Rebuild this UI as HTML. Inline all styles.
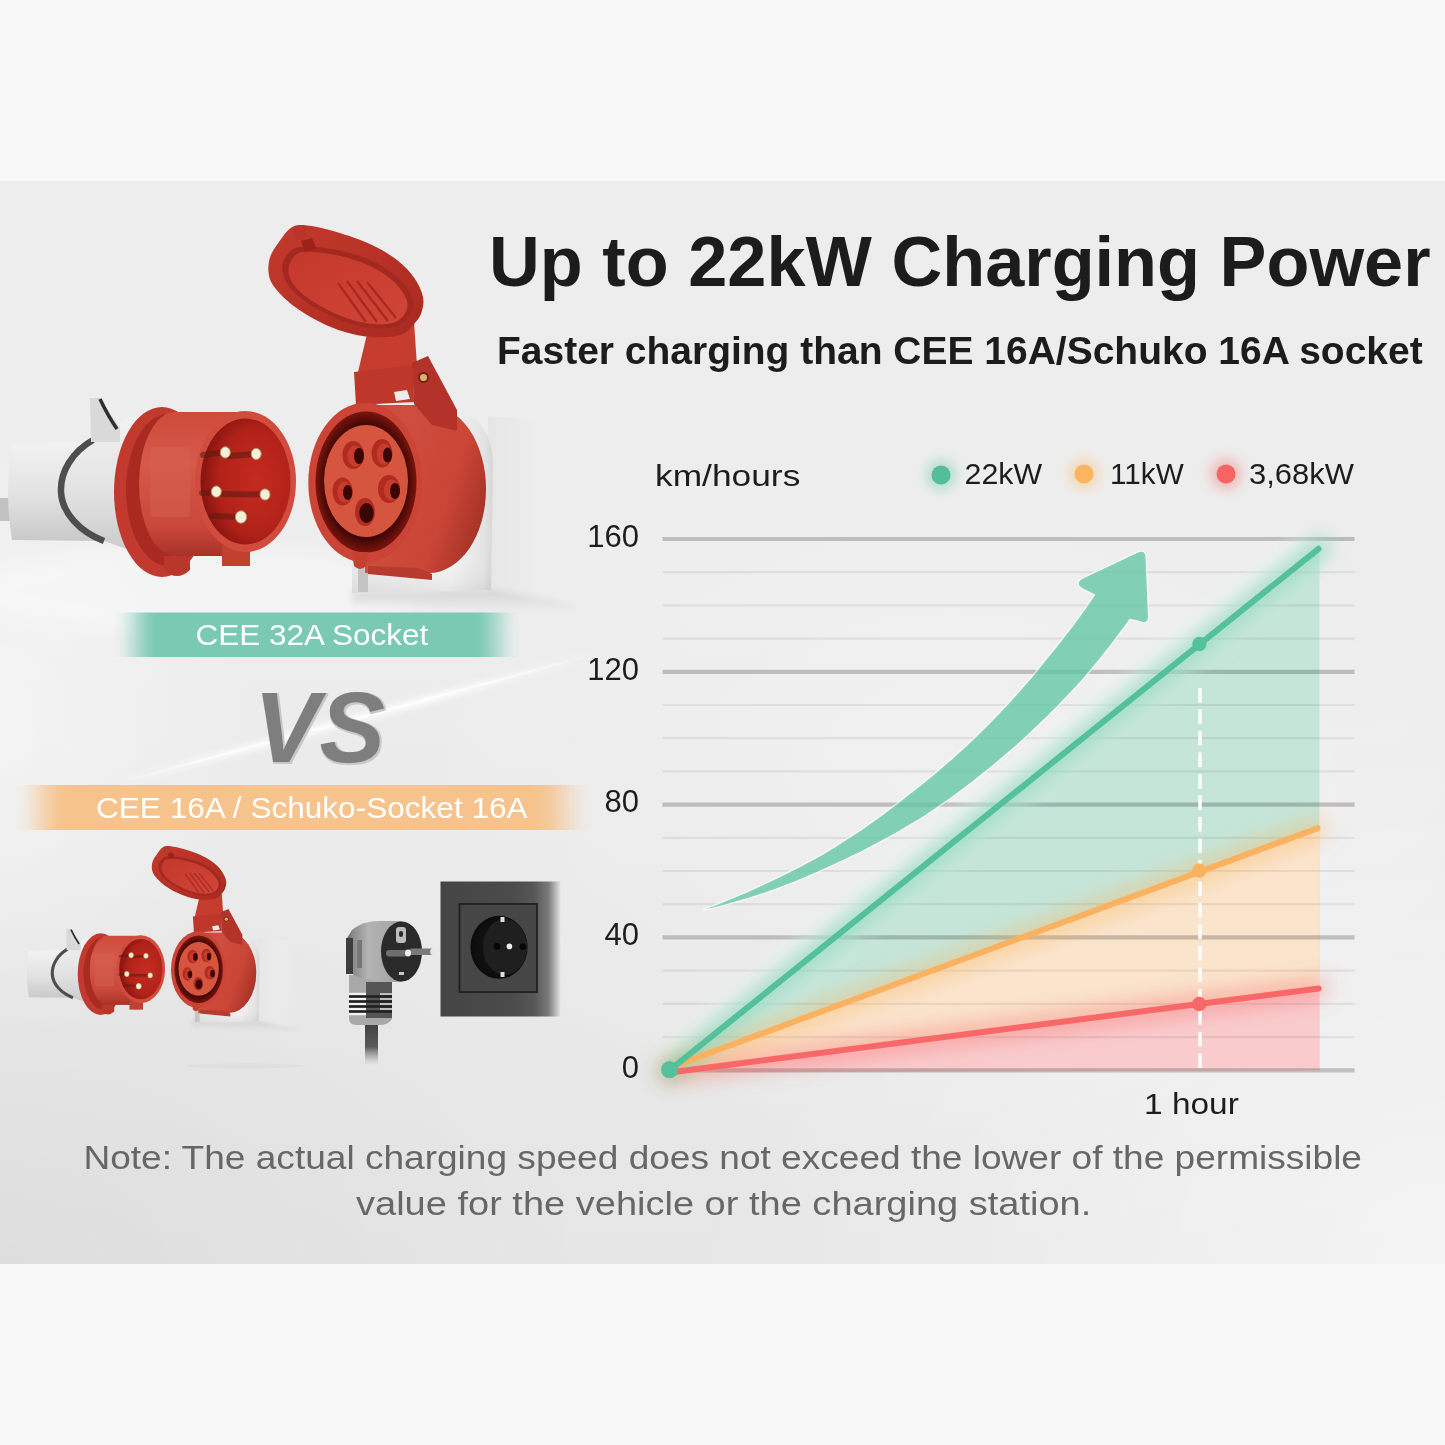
<!DOCTYPE html>
<html><head><meta charset="utf-8">
<style>
html,body{margin:0;padding:0;}
body{width:1445px;height:1445px;background:#f8f8f8;overflow:hidden;position:relative;font-family:"Liberation Sans",Arial,sans-serif;}
#panel{position:absolute;left:0;top:181px;width:1445px;height:1083px;
background:
radial-gradient(ellipse 260px 330px at 0px 540px, rgba(255,255,255,0.4), rgba(255,255,255,0) 100%),
radial-gradient(ellipse 600px 400px at 0px 1083px, rgba(0,0,0,0.04), rgba(0,0,0,0) 100%),
radial-gradient(ellipse 760px 660px at 1445px 1083px, rgba(255,255,255,0.55), rgba(255,255,255,0) 100%),
radial-gradient(ellipse 560px 380px at 950px 600px, rgba(255,255,255,0.25), rgba(255,255,255,0) 100%),
linear-gradient(180deg,#ededed 0%,#ededed 40%,#e6e6e6 100%);}
svg{position:absolute;left:0;top:0;}
</style></head>
<body>
<div id="panel"></div>
<svg width="1445" height="1445" viewBox="0 0 1445 1445">
<defs>
  <filter id="blur6" x="-50%" y="-50%" width="200%" height="200%"><feGaussianBlur stdDeviation="6"/></filter>
  <filter id="blur10" x="-50%" y="-50%" width="200%" height="200%"><feGaussianBlur stdDeviation="10"/></filter>
  <filter id="blur3" x="-50%" y="-50%" width="200%" height="200%"><feGaussianBlur stdDeviation="3"/></filter>
  <linearGradient id="gBan" gradientUnits="userSpaceOnUse" x1="112" x2="522" y1="0" y2="0">
    <stop offset="0.0000" stop-color="#79c9b3" stop-opacity="0.000"/>
    <stop offset="0.0146" stop-color="#79c9b3" stop-opacity="0.038"/>
    <stop offset="0.0293" stop-color="#79c9b3" stop-opacity="0.146"/>
    <stop offset="0.0439" stop-color="#79c9b3" stop-opacity="0.309"/>
    <stop offset="0.0585" stop-color="#79c9b3" stop-opacity="0.500"/>
    <stop offset="0.0732" stop-color="#79c9b3" stop-opacity="0.691"/>
    <stop offset="0.0878" stop-color="#79c9b3" stop-opacity="0.854"/>
    <stop offset="0.1024" stop-color="#79c9b3" stop-opacity="0.962"/>
    <stop offset="0.1171" stop-color="#79c9b3" stop-opacity="1.000"/>
    <stop offset="0.8780" stop-color="#79c9b3" stop-opacity="1.000"/>
    <stop offset="0.8933" stop-color="#79c9b3" stop-opacity="0.962"/>
    <stop offset="0.9085" stop-color="#79c9b3" stop-opacity="0.854"/>
    <stop offset="0.9238" stop-color="#79c9b3" stop-opacity="0.691"/>
    <stop offset="0.9390" stop-color="#79c9b3" stop-opacity="0.500"/>
    <stop offset="0.9543" stop-color="#79c9b3" stop-opacity="0.309"/>
    <stop offset="0.9695" stop-color="#79c9b3" stop-opacity="0.146"/>
    <stop offset="0.9848" stop-color="#79c9b3" stop-opacity="0.038"/>
    <stop offset="1.0000" stop-color="#79c9b3" stop-opacity="0.000"/>
  </linearGradient>
  <linearGradient id="oBan" gradientUnits="userSpaceOnUse" x1="12" x2="594" y1="0" y2="0">
    <stop offset="0.0000" stop-color="#f6c38d" stop-opacity="0.000"/>
    <stop offset="0.0120" stop-color="#f6c38d" stop-opacity="0.038"/>
    <stop offset="0.0241" stop-color="#f6c38d" stop-opacity="0.146"/>
    <stop offset="0.0361" stop-color="#f6c38d" stop-opacity="0.309"/>
    <stop offset="0.0481" stop-color="#f6c38d" stop-opacity="0.500"/>
    <stop offset="0.0601" stop-color="#f6c38d" stop-opacity="0.691"/>
    <stop offset="0.0722" stop-color="#f6c38d" stop-opacity="0.854"/>
    <stop offset="0.0842" stop-color="#f6c38d" stop-opacity="0.962"/>
    <stop offset="0.0962" stop-color="#f6c38d" stop-opacity="1.000"/>
    <stop offset="0.8935" stop-color="#f6c38d" stop-opacity="1.000"/>
    <stop offset="0.9068" stop-color="#f6c38d" stop-opacity="0.962"/>
    <stop offset="0.9201" stop-color="#f6c38d" stop-opacity="0.854"/>
    <stop offset="0.9334" stop-color="#f6c38d" stop-opacity="0.691"/>
    <stop offset="0.9467" stop-color="#f6c38d" stop-opacity="0.500"/>
    <stop offset="0.9601" stop-color="#f6c38d" stop-opacity="0.309"/>
    <stop offset="0.9734" stop-color="#f6c38d" stop-opacity="0.146"/>
    <stop offset="0.9867" stop-color="#f6c38d" stop-opacity="0.038"/>
    <stop offset="1.0000" stop-color="#f6c38d" stop-opacity="0.000"/>
  </linearGradient>

  <linearGradient id="gHandle" x1="0" x2="0" y1="0" y2="1">
    <stop offset="0" stop-color="#f2f2f2"/><stop offset="0.55" stop-color="#e2e2e2"/><stop offset="1" stop-color="#c9c9c9"/>
  </linearGradient>
  <linearGradient id="gBody" x1="0" x2="0" y1="0" y2="1">
    <stop offset="0" stop-color="#cf4a3b"/><stop offset="0.35" stop-color="#d55a4a"/><stop offset="0.8" stop-color="#c8473a"/><stop offset="1" stop-color="#a83226"/>
  </linearGradient>
  <linearGradient id="gFlange" x1="0" x2="1" y1="0" y2="0">
    <stop offset="0" stop-color="#d04436"/><stop offset="0.5" stop-color="#a82a20"/><stop offset="1" stop-color="#b8372b"/>
  </linearGradient>
  <radialGradient id="gInner" cx="0.62" cy="0.5" r="0.6">
    <stop offset="0" stop-color="#c62b20"/><stop offset="0.7" stop-color="#b02219"/><stop offset="1" stop-color="#8a1410"/>
  </radialGradient>
  <linearGradient id="gSockBody" gradientUnits="userSpaceOnUse" x1="400" x2="487" y1="470" y2="500">
    <stop offset="0" stop-color="#cf4d3e"/><stop offset="0.6" stop-color="#c94536"/><stop offset="1" stop-color="#a93428"/>
  </linearGradient>
  <radialGradient id="gGap" cx="0.5" cy="0.5" r="0.5">
    <stop offset="0.8" stop-color="#3e0604"/><stop offset="1" stop-color="#7a140d"/>
  </radialGradient>
  <linearGradient id="gLid" x1="0" x2="1" y1="0" y2="1">
    <stop offset="0" stop-color="#c43a2d"/><stop offset="1" stop-color="#a9291f"/>
  </linearGradient>
  <linearGradient id="gLidIn" x1="0" x2="1" y1="0" y2="1">
    <stop offset="0" stop-color="#c4382c"/><stop offset="1" stop-color="#cf4536"/>
  </linearGradient>
  <linearGradient id="gPlateV" x1="0" x2="0" y1="0" y2="1">
    <stop offset="0" stop-color="#ffffff" stop-opacity="0"/><stop offset="0.8" stop-color="#ffffff" stop-opacity="0"/><stop offset="1" stop-color="#000000" stop-opacity="0.06"/>
  </linearGradient>
  <linearGradient id="gPlate" x1="0" x2="1" y1="0" y2="0">
    <stop offset="0" stop-color="#e9e9e9"/><stop offset="0.7" stop-color="#f3f3f3"/><stop offset="0.93" stop-color="#e4e4e4"/><stop offset="1" stop-color="#d6d6d6"/>
  </linearGradient>
  <linearGradient id="gBoxSide" x1="0" x2="1" y1="0" y2="0">
    <stop offset="0" stop-color="#e6e6e6" stop-opacity="1"/><stop offset="0.6" stop-color="#ececec" stop-opacity="0.8"/><stop offset="1" stop-color="#eeeeee" stop-opacity="0"/>
  </linearGradient>
  <linearGradient id="gShadowV" x1="0" x2="0" y1="0" y2="1">
    <stop offset="0" stop-color="#cfcfcf" stop-opacity="0.9"/><stop offset="1" stop-color="#dddddd" stop-opacity="0"/>
  </linearGradient>

  <linearGradient id="gFrame" x1="0" x2="1" y1="0" y2="0">
    <stop offset="0" stop-color="#454545"/><stop offset="0.6" stop-color="#4b4b4b"/><stop offset="0.78" stop-color="#575757"/><stop offset="0.9" stop-color="#7a7a7a"/><stop offset="0.97" stop-color="#c4c4c4"/><stop offset="1" stop-color="#e2e2e2"/>
  </linearGradient>
  <linearGradient id="gPlugBody" x1="0" x2="1" y1="0" y2="0">
    <stop offset="0" stop-color="#5a5a5a"/><stop offset="0.12" stop-color="#8a8a8a"/><stop offset="0.4" stop-color="#b4b4b4"/><stop offset="1" stop-color="#a0a0a0"/>
  </linearGradient>
  <linearGradient id="gCable" x1="0" x2="0" y1="0" y2="1">
    <stop offset="0" stop-color="#3c3c3c"/><stop offset="0.6" stop-color="#5a5a5a"/><stop offset="1" stop-color="#9a9a9a" stop-opacity="0"/>
  </linearGradient>
  <radialGradient id="gRecess" cx="0.5" cy="0.5" r="0.5">
    <stop offset="0" stop-color="#181818"/><stop offset="0.85" stop-color="#0e0e0e"/><stop offset="1" stop-color="#0a0a0a"/>
  </radialGradient>
  <linearGradient id="streak" gradientUnits="userSpaceOnUse" x1="115" y1="784" x2="600" y2="653">
    <stop offset="0" stop-color="#ffffff" stop-opacity="0"/><stop offset="0.25" stop-color="#ffffff" stop-opacity="0.85"/><stop offset="0.65" stop-color="#ffffff" stop-opacity="1"/><stop offset="1" stop-color="#ffffff" stop-opacity="0"/>
  </linearGradient>
  <filter id="vsf" x="-10%" y="-10%" width="120%" height="120%">
    <feMorphology operator="dilate" radius="1.2" in="SourceAlpha" result="d"/>
    <feOffset dx="1" dy="1" in="d" result="o"/>
    <feFlood flood-color="#c8c8c8"/><feComposite in2="o" operator="in" result="edge"/>
    <feMerge><feMergeNode in="edge"/><feMergeNode in="SourceGraphic"/></feMerge>
  </filter>
</defs>

<!-- ===== CHART ===== -->
<!-- fills -->
<g id="fills">
  <polygon points="670,1070 1318.5,548.8 1319.5,548.8 1319.5,1070.3" fill="#c5e5d9"/>
  <polygon points="670,1067.5 1317.5,828.2 1319.5,828.2 1319.5,1070.3" fill="#fae4cc"/>
  <polygon points="670,1072.5 1318.7,988.5 1319.5,988.5 1319.5,1070.3" fill="#f9cbcc"/>
</g>
<g id="grid" style="mix-blend-mode:multiply">
  <g stroke="#eeeeee" stroke-width="2.2"><line x1="662.5" x2="1354.5" y1="572.2" y2="572.2"/><line x1="662.5" x2="1354.5" y1="605.4" y2="605.4"/><line x1="662.5" x2="1354.5" y1="638.6" y2="638.6"/><line x1="662.5" x2="1354.5" y1="705.0" y2="705.0"/><line x1="662.5" x2="1354.5" y1="738.2" y2="738.2"/><line x1="662.5" x2="1354.5" y1="771.4" y2="771.4"/><line x1="662.5" x2="1354.5" y1="837.8" y2="837.8"/><line x1="662.5" x2="1354.5" y1="871.0" y2="871.0"/><line x1="662.5" x2="1354.5" y1="904.2" y2="904.2"/><line x1="662.5" x2="1354.5" y1="970.6" y2="970.6"/><line x1="662.5" x2="1354.5" y1="1003.8" y2="1003.8"/><line x1="662.5" x2="1354.5" y1="1037.1" y2="1037.1"/></g>
  <g stroke="#cbcbcb" stroke-width="4.2"><line x1="662.5" x2="1354.5" y1="539" y2="539"/><line x1="662.5" x2="1354.5" y1="671.8" y2="671.8"/><line x1="662.5" x2="1354.5" y1="804.6" y2="804.6"/><line x1="662.5" x2="1354.5" y1="937.4" y2="937.4"/><line x1="662.5" x2="1354.5" y1="1070.3" y2="1070.3"/></g>
</g>

<!-- glows -->
<line x1="668" y1="1067.8" x2="1316.5" y2="546.8" stroke="#ffffff" stroke-width="34" stroke-opacity="0.55" filter="url(#blur10)"/>
<g id="glows" fill="none" stroke-linecap="round">
  <line x1="670" y1="1072.5" x2="1318.7" y2="988.5" stroke="#f76464" stroke-width="20" stroke-opacity="0.4" filter="url(#blur10)"/>
  <line x1="670" y1="1067.5" x2="1317.5" y2="828.2" stroke="#fbb55f" stroke-width="20" stroke-opacity="0.45" filter="url(#blur10)"/>
  <line x1="670" y1="1069.8" x2="1318.5" y2="548.8" stroke="#5cc4a0" stroke-width="22" stroke-opacity="0.55" filter="url(#blur10)"/>
</g>
<!-- dashed hour line -->
<line x1="1200" y1="688" x2="1200" y2="1070" stroke="#ffffff" stroke-width="3.4" stroke-dasharray="14.5 7"/>
<!-- lines -->
<g id="lines" fill="none" stroke-linecap="round" stroke-width="6">
  <line x1="670" y1="1072.5" x2="1318.7" y2="988.5" stroke="#f86868"/>
  <line x1="670" y1="1067.5" x2="1317.5" y2="828.2" stroke="#fbb260"/>
  <line x1="670" y1="1069.8" x2="1318.5" y2="548.8" stroke="#55c09c"/>
</g>
<circle cx="1199.4" cy="644" r="7.2" fill="#55c09c"/>
<circle cx="1199.4" cy="870.5" r="7.2" fill="#fbb260"/>
<circle cx="1199.2" cy="1004" r="7.2" fill="#f86868"/>
<circle cx="669.6" cy="1069.6" r="8.6" fill="#55c09c"/>
<!-- big arrow -->
<path d="M704.5,909.5 L710.7,907.2 L716.8,904.9 L722.9,902.5 L729.0,900.1 L735.1,897.6 L741.1,895.0 L747.1,892.4 L753.0,889.8 L759.0,887.0 L764.9,884.3 L770.8,881.6 L776.7,878.8 L782.5,876.0 L788.4,873.1 L794.2,870.1 L799.9,867.2 L805.7,864.1 L811.4,861.0 L817.1,857.9 L822.7,854.7 L828.3,851.4 L833.9,848.1 L839.4,844.6 L844.8,841.1 L850.3,837.6 L855.7,834.0 L861.1,830.4 L866.4,826.7 L871.7,823.0 L877.0,819.3 L882.2,815.5 L887.4,811.6 L892.5,807.7 L897.7,803.8 L902.8,799.8 L907.8,795.8 L912.9,791.8 L918.0,787.8 L923.0,783.8 L928.0,779.7 L933.0,775.7 L937.9,771.5 L942.8,767.3 L947.7,763.1 L952.5,758.9 L957.3,754.6 L962.1,750.2 L966.8,745.9 L971.5,741.4 L976.2,737.0 L980.8,732.5 L985.3,728.0 L989.9,723.4 L994.4,718.8 L998.9,714.2 L1003.3,709.6 L1007.7,704.9 L1012.0,700.1 L1016.3,695.4 L1020.6,690.6 L1024.8,685.7 L1029.0,680.9 L1033.2,676.0 L1037.3,671.1 L1041.3,666.1 L1045.4,661.1 L1049.3,656.1 L1053.4,651.2 L1057.4,646.2 L1061.4,641.2 L1065.3,636.1 L1069.2,631.1 L1073.1,626.0 L1076.9,620.8 L1080.6,615.7 L1084.4,610.5 L1088.0,605.3 L1091.7,600.1 L1095.3,594.8 L1082,588 Q1075,583 1082,579 L1137,553 Q1145,549 1145.5,557 L1148,616 Q1148,625 1140,621 L1129.7,618.8 L1125.8,624.2 L1121.8,629.7 L1117.8,635.0 L1113.8,640.4 L1109.7,645.7 L1105.5,651.0 L1101.4,656.2 L1097.1,661.4 L1092.9,666.6 L1088.6,671.8 L1084.2,676.9 L1079.8,682.0 L1075.3,686.9 L1070.7,691.8 L1066.1,696.7 L1061.4,701.6 L1056.7,706.4 L1052.0,711.1 L1047.3,715.9 L1042.4,720.6 L1037.6,725.2 L1032.7,729.8 L1027.8,734.4 L1022.9,738.9 L1017.9,743.4 L1012.9,747.9 L1007.8,752.3 L1002.8,756.6 L997.6,760.9 L992.5,765.2 L987.3,769.5 L982.1,773.6 L976.8,777.8 L971.6,781.9 L966.2,786.0 L960.9,790.0 L955.5,793.9 L950.1,797.9 L944.7,801.7 L939.2,805.6 L933.7,809.3 L928.2,813.1 L922.6,816.7 L916.9,820.2 L911.2,823.6 L905.5,827.0 L899.7,830.4 L893.9,833.7 L888.1,836.9 L882.3,840.1 L876.4,843.3 L870.6,846.3 L864.7,849.4 L858.7,852.4 L852.8,855.3 L846.8,858.2 L840.8,861.0 L834.8,863.8 L828.8,866.6 L822.8,869.3 L816.8,872.0 L810.7,874.6 L804.7,877.2 L798.6,879.7 L792.5,882.2 L786.3,884.6 L780.2,886.9 L774.0,889.2 L767.8,891.5 L761.5,893.6 L755.3,895.6 L749.0,897.6 L742.7,899.5 L736.3,901.3 L730.0,903.0 L723.7,904.8 L717.3,906.4 L710.9,908.0 L704.5,909.5 Z" fill="none" stroke="#ffffff" stroke-opacity="0.6" stroke-width="2.8" stroke-linejoin="round"/>
<path d="M704.5,909.5 L710.7,907.2 L716.8,904.9 L722.9,902.5 L729.0,900.1 L735.1,897.6 L741.1,895.0 L747.1,892.4 L753.0,889.8 L759.0,887.0 L764.9,884.3 L770.8,881.6 L776.7,878.8 L782.5,876.0 L788.4,873.1 L794.2,870.1 L799.9,867.2 L805.7,864.1 L811.4,861.0 L817.1,857.9 L822.7,854.7 L828.3,851.4 L833.9,848.1 L839.4,844.6 L844.8,841.1 L850.3,837.6 L855.7,834.0 L861.1,830.4 L866.4,826.7 L871.7,823.0 L877.0,819.3 L882.2,815.5 L887.4,811.6 L892.5,807.7 L897.7,803.8 L902.8,799.8 L907.8,795.8 L912.9,791.8 L918.0,787.8 L923.0,783.8 L928.0,779.7 L933.0,775.7 L937.9,771.5 L942.8,767.3 L947.7,763.1 L952.5,758.9 L957.3,754.6 L962.1,750.2 L966.8,745.9 L971.5,741.4 L976.2,737.0 L980.8,732.5 L985.3,728.0 L989.9,723.4 L994.4,718.8 L998.9,714.2 L1003.3,709.6 L1007.7,704.9 L1012.0,700.1 L1016.3,695.4 L1020.6,690.6 L1024.8,685.7 L1029.0,680.9 L1033.2,676.0 L1037.3,671.1 L1041.3,666.1 L1045.4,661.1 L1049.3,656.1 L1053.4,651.2 L1057.4,646.2 L1061.4,641.2 L1065.3,636.1 L1069.2,631.1 L1073.1,626.0 L1076.9,620.8 L1080.6,615.7 L1084.4,610.5 L1088.0,605.3 L1091.7,600.1 L1095.3,594.8 L1082,588 Q1075,583 1082,579 L1137,553 Q1145,549 1145.5,557 L1148,616 Q1148,625 1140,621 L1129.7,618.8 L1125.8,624.2 L1121.8,629.7 L1117.8,635.0 L1113.8,640.4 L1109.7,645.7 L1105.5,651.0 L1101.4,656.2 L1097.1,661.4 L1092.9,666.6 L1088.6,671.8 L1084.2,676.9 L1079.8,682.0 L1075.3,686.9 L1070.7,691.8 L1066.1,696.7 L1061.4,701.6 L1056.7,706.4 L1052.0,711.1 L1047.3,715.9 L1042.4,720.6 L1037.6,725.2 L1032.7,729.8 L1027.8,734.4 L1022.9,738.9 L1017.9,743.4 L1012.9,747.9 L1007.8,752.3 L1002.8,756.6 L997.6,760.9 L992.5,765.2 L987.3,769.5 L982.1,773.6 L976.8,777.8 L971.6,781.9 L966.2,786.0 L960.9,790.0 L955.5,793.9 L950.1,797.9 L944.7,801.7 L939.2,805.6 L933.7,809.3 L928.2,813.1 L922.6,816.7 L916.9,820.2 L911.2,823.6 L905.5,827.0 L899.7,830.4 L893.9,833.7 L888.1,836.9 L882.3,840.1 L876.4,843.3 L870.6,846.3 L864.7,849.4 L858.7,852.4 L852.8,855.3 L846.8,858.2 L840.8,861.0 L834.8,863.8 L828.8,866.6 L822.8,869.3 L816.8,872.0 L810.7,874.6 L804.7,877.2 L798.6,879.7 L792.5,882.2 L786.3,884.6 L780.2,886.9 L774.0,889.2 L767.8,891.5 L761.5,893.6 L755.3,895.6 L749.0,897.6 L742.7,899.5 L736.3,901.3 L730.0,903.0 L723.7,904.8 L717.3,906.4 L710.9,908.0 L704.5,909.5 Z" fill="#5cc4a0" fill-opacity="0.75"/>
<!-- legend -->
<g font-family="Liberation Sans, Arial, sans-serif" font-size="30" fill="#1d1d1d">
  <text x="655" y="485.5" textLength="145.3" lengthAdjust="spacingAndGlyphs">km/hours</text>
  <text x="964.5" y="483.5" textLength="77.6" lengthAdjust="spacingAndGlyphs">22kW</text>
  <text x="1110" y="483.5" textLength="73.7" lengthAdjust="spacingAndGlyphs">11kW</text>
  <text x="1249" y="483.5" textLength="105" lengthAdjust="spacingAndGlyphs">3,68kW</text>
</g>
<circle cx="941" cy="475" r="16" fill="#5cc4a0" fill-opacity="0.35" filter="url(#blur6)"/>
<circle cx="1084" cy="474" r="16" fill="#fbb55f" fill-opacity="0.35" filter="url(#blur6)"/>
<circle cx="1226" cy="474" r="16" fill="#f76464" fill-opacity="0.35" filter="url(#blur6)"/>
<circle cx="941" cy="475" r="9.5" fill="#52be9a"/>
<circle cx="1084" cy="474" r="9.5" fill="#fbb55f"/>
<circle cx="1226" cy="474" r="9.5" fill="#f76464"/>
<!-- y labels -->
<g font-family="Liberation Sans, Arial, sans-serif" font-size="31" fill="#1d1d1d" text-anchor="end">
  <text x="639" y="546.5">160</text>
  <text x="639" y="679.5">120</text>
  <text x="639" y="812">80</text>
  <text x="639" y="944.5">40</text>
  <text x="639" y="1077.5">0</text>
</g>
<text x="1144" y="1114" font-family="Liberation Sans, Arial, sans-serif" font-size="30" fill="#1d1d1d" textLength="94.8" lengthAdjust="spacingAndGlyphs">1 hour</text>

<!-- title -->
<text x="489" y="286" font-family="Liberation Sans, Arial, sans-serif" font-weight="bold" font-size="70.5" fill="#1c1c1c" textLength="941.6" lengthAdjust="spacingAndGlyphs">Up to 22kW Charging Power</text>
<text x="497" y="363.8" font-family="Liberation Sans, Arial, sans-serif" font-weight="bold" font-size="39" fill="#1c1c1c" textLength="925.7" lengthAdjust="spacingAndGlyphs">Faster charging than CEE 16A/Schuko 16A socket</text>

<!-- note -->
<g font-family="Liberation Sans, Arial, sans-serif" font-size="33" fill="#676767">
  <text x="83.4" y="1169.3" textLength="1278.6" lengthAdjust="spacingAndGlyphs">Note: The actual charging speed does not exceed the lower of the permissible</text>
  <text x="356" y="1215" textLength="735.3" lengthAdjust="spacingAndGlyphs">value for the vehicle or the charging station.</text>
</g>


<!-- ===== CEE plug + socket group (top instance coords) ===== -->
<ellipse cx="200" cy="590" rx="230" ry="45" fill="#ffffff" opacity="0.35" filter="url(#blur10)"/>
<rect x="-5" y="498" width="24" height="23" fill="#c2c2c2"/>
<g id="cee">
  <!-- socket mount plate + box -->
  <polygon points="488,416 565,424 565,604 488,596" fill="url(#gBoxSide)"/>
  <path d="M352,592 L492,590 L575,604 L575,614 L352,604 Z" fill="url(#gShadowV)" filter="url(#blur3)"/>
  <path d="M352,407 L452,409 Q492,418 493,463 L491,590 L352,593 Z" fill="url(#gPlate)"/>
  <path d="M352,407 L452,409 Q492,418 493,463 L491,590 L352,593 Z" fill="url(#gPlateV)"/>
  <rect x="358" y="566" width="10" height="26" fill="#c4c4c4"/>
  <!-- end cap -->
  <path d="M12,444 L94,441 L105,541 L12,540 Q4,492 12,444 Z" fill="url(#gHandle)"/>
  <!-- tapered body -->
  <path d="M93,440 L128,417 L150,416 L150,556 L138,553 L104,541 C80,532 62,513 61,492 C60,472 72,452 93,440 Z" fill="url(#gHandle)"/>
  <!-- dark ring -->
  <path d="M93,440 C72,452 60,472 61,492 C62,513 80,532 104,541" fill="none" stroke="#4e4e4e" stroke-width="6.5"/>
  <!-- top clip -->
  <path d="M90,398 L100,398 L120,428 L120,442 L91,442 Z" fill="#d9d9d9"/>
  <path d="M100,399 Q108,416 117,429" fill="none" stroke="#2e2e2e" stroke-width="3.5"/>
  <!-- flange -->
  <ellipse cx="162" cy="492" rx="48" ry="85" fill="#c23a2e"/>
  <ellipse cx="168" cy="490" rx="42" ry="76" fill="#a92a20"/>
  <!-- tab left -->
  <path d="M164,556 L190,556 L190,570 Q177,582 164,570 Z" fill="#b8362a"/>
  <!-- cylinder -->
  <ellipse cx="175" cy="484" rx="36" ry="72" fill="url(#gBody)"/>
  <rect x="175" y="412" width="72" height="144" fill="url(#gBody)"/>
  <rect x="150" y="447" width="40" height="70" rx="3" fill="#d6604f" fill-opacity="0.5"/>
  <!-- tab right -->
  <path d="M222,545 L250,545 L250,566 L222,566 Z" fill="#c2402f"/>
  <!-- front rim -->
  <ellipse cx="245.5" cy="481.5" rx="50.5" ry="70.5" fill="#d24c3e"/>
  <ellipse cx="245.5" cy="481.5" rx="45" ry="63" fill="url(#gInner)"/>
  <!-- pin shafts -->
  <g stroke="#5a1a10" stroke-width="6" stroke-linecap="round" opacity="0.55">
    <line x1="225" y1="452" x2="203" y2="455"/>
    <line x1="256" y1="454" x2="229" y2="456"/>
    <line x1="216" y1="492" x2="202" y2="493"/>
    <line x1="265" y1="494.5" x2="222" y2="494"/>
    <line x1="241" y1="517" x2="212" y2="516"/>
  </g>
  <g fill="#f7f0d8" stroke="#b89660" stroke-width="1">
    <ellipse cx="225.3" cy="452.4" rx="5" ry="5.6"/>
    <ellipse cx="256.2" cy="453.9" rx="5" ry="5.6"/>
    <ellipse cx="216.3" cy="491.6" rx="5" ry="5.6"/>
    <ellipse cx="265" cy="494.5" rx="5" ry="5.6"/>
    <ellipse cx="241" cy="517" rx="5.6" ry="6.2"/>
  </g>

  <!-- socket body -->
  <path d="M365,405 L429,405 A57 84 0 0 1 429,573 L365,573 Z" fill="url(#gSockBody)"/>
  <path d="M418,568 L432,574 L432,580 L368,574 L368,566 Z" fill="#b63a2e"/>
  <!-- hinge housing -->
  <path d="M367,334 L414,322 L417,366 L412,372 L362,380 L358,372 Z" fill="#c63d2f"/>
  <path d="M354,372 L413,365 L414,402 L356,405 Z" fill="#bd382b"/>
  <path d="M412,363 L428,356 L457,410 L457,431 L432,425 L414,404 Z" fill="#b3322a"/>
  <circle cx="423.5" cy="377.5" r="4.5" fill="#d9b36a" stroke="#7a2016" stroke-width="2"/>
  <path d="M394,392 L407,390 L410,399 L396,401 Z" fill="#ececec"/>
  <!-- front rim -->
  <ellipse cx="365.3" cy="482.7" rx="57" ry="80" fill="#cc4436"/>
  <ellipse cx="366" cy="482" rx="50.5" ry="70.5" fill="url(#gGap)"/>
  <ellipse cx="366" cy="481" rx="42" ry="56" fill="#d6553f"/>
  <path d="M352,552 L368,552 L366,566 Q360,572 354,566 Z" fill="#c4402f"/>
  <!-- holes -->
  <g fill="#b22b21">
    <ellipse cx="353.2" cy="455" rx="10.8" ry="14"/>
    <ellipse cx="382" cy="453.2" rx="10.4" ry="14.2"/>
    <ellipse cx="342.5" cy="491.5" rx="10" ry="14"/>
    <ellipse cx="389" cy="489" rx="11" ry="14"/>
    <ellipse cx="365" cy="512" rx="10" ry="14"/>
  </g>
  <g fill="#c83c2e">
    <ellipse cx="355" cy="456" rx="7.5" ry="10.5"/>
    <ellipse cx="384" cy="454.2" rx="7.2" ry="10.6"/>
    <ellipse cx="344.5" cy="492" rx="7" ry="10.5"/>
    <ellipse cx="391.5" cy="490" rx="7.6" ry="10.5"/>
  </g>
  <g fill="#3a0604">
    <ellipse cx="359" cy="456" rx="5" ry="8"/>
    <ellipse cx="387.5" cy="455" rx="4.6" ry="7.5"/>
    <ellipse cx="347.7" cy="492.5" rx="4.7" ry="7.5"/>
    <ellipse cx="395" cy="491" rx="5" ry="8"/>
    <ellipse cx="366.5" cy="513" rx="7.2" ry="10"/>
  </g>
  <!-- lid -->
  <path d="M291.5,227.5 C296.2,224.8 299.5,224.8 307.0,225.5 C314.5,226.2 325.8,228.8 336.5,232.0 C347.2,235.2 360.9,239.8 371.0,244.5 C381.1,249.2 389.8,254.5 397.0,260.0 C404.2,265.5 409.7,271.3 414.0,277.5 C418.3,283.7 421.8,291.1 423.0,297.0 C424.2,302.9 422.8,308.5 421.3,313.0 C419.8,317.5 417.5,320.3 414.0,324.0 C410.5,327.7 407.7,332.8 400.5,335.0 C393.3,337.2 380.2,337.5 371.0,337.0 C361.8,336.5 353.7,334.6 345.0,332.0 C336.3,329.4 327.7,325.9 319.0,321.5 C310.3,317.1 300.5,311.3 293.0,305.5 C285.5,299.7 278.1,292.1 274.0,286.5 C269.9,280.9 269.1,277.1 268.5,272.0 C267.9,266.9 268.8,261.0 270.5,256.0 C272.2,251.0 275.5,246.8 279.0,242.0 C282.5,237.2 286.8,230.2 291.5,227.5 Z" fill="url(#gLid)"/>
  <path d="M300.0,247.0 C308.6,245.7 324.8,247.8 336.5,250.0 C348.2,252.2 360.1,255.7 370.0,260.0 C379.9,264.3 389.3,270.5 396.0,276.0 C402.7,281.5 407.2,287.7 410.0,293.0 C412.8,298.3 414.0,303.2 413.0,308.0 C412.0,312.8 408.2,318.7 404.0,322.0 C399.8,325.3 394.5,327.2 388.0,328.0 C381.5,328.8 373.0,328.3 365.0,327.0 C357.0,325.7 348.5,323.3 340.0,320.0 C331.5,316.7 321.8,311.8 314.0,307.0 C306.2,302.2 298.2,296.5 293.0,291.0 C287.8,285.5 284.3,279.5 283.0,274.0 C281.7,268.5 282.2,262.5 285.0,258.0 C287.8,253.5 291.4,248.3 300.0,247.0 Z" fill="#a3281f"/>
  <path d="M303.0,252.0 C310.5,251.0 325.2,252.8 336.0,255.0 C346.8,257.2 358.7,260.8 368.0,265.0 C377.3,269.2 385.8,274.8 392.0,280.0 C398.2,285.2 402.5,291.2 405.0,296.0 C407.5,300.8 408.0,305.0 407.0,309.0 C406.0,313.0 402.5,317.5 399.0,320.0 C395.5,322.5 391.7,323.5 386.0,324.0 C380.3,324.5 372.5,324.3 365.0,323.0 C357.5,321.7 349.0,319.2 341.0,316.0 C333.0,312.8 324.2,308.3 317.0,304.0 C309.8,299.7 302.7,294.8 298.0,290.0 C293.3,285.2 290.2,279.8 289.0,275.0 C287.8,270.2 288.7,264.8 291.0,261.0 C293.3,257.2 295.5,253.0 303.0,252.0 Z" fill="url(#gLidIn)"/>
  <path d="M292,229 Q300,224 308,227 L306,238 L296,241 Z" fill="#b9352a"/>
  <path d="M301,241 L312,238 L316,248 L305,252 Z" fill="#9c2219"/>
  <g stroke="#a3241c" stroke-width="2.2" fill="none" opacity="0.85">
    <line x1="338" y1="283" x2="366" y2="322"/>
    <line x1="347" y1="281" x2="377" y2="322"/>
    <line x1="357" y1="281" x2="388" y2="321"/>
    <line x1="367" y1="282" x2="396" y2="318"/>
  </g>
</g>
</g>
<!-- bottom small instance -->
<use href="#cee" transform="translate(23,738) scale(0.48)"/>


<!-- ===== Schuko socket + plug ===== -->
<g id="schuko">
  <!-- socket frame -->
  <rect x="440.5" y="881.5" width="120" height="135" fill="url(#gFrame)"/>
  <rect x="459.5" y="904" width="77.5" height="88" fill="#464646" stroke="#1e1e1e" stroke-width="1.8"/>
  <ellipse cx="499" cy="947.3" rx="28.6" ry="31.5" fill="url(#gRecess)"/>
  <ellipse cx="505" cy="947" rx="22" ry="28" fill="#1f1f1f"/>
  <circle cx="497" cy="946.4" r="3.3" fill="#050505"/>
  <circle cx="522.7" cy="946.7" r="3.3" fill="#050505"/>
  <circle cx="509.4" cy="946.4" r="2.8" fill="#f2f2f2"/>
  <rect x="500.5" y="917" width="4" height="5" fill="#e0e0e0"/>
  <rect x="500.5" y="972" width="4" height="5" fill="#e0e0e0"/>
  <!-- plug cable -->
  <rect x="365" y="1020" width="13" height="45" fill="url(#gCable)"/>
  <!-- plug neck with ribs -->
  <path d="M349,975 L392,975 L392,1019 Q388,1025 380,1025 L356,1025 Q349,1025 349,1018 Z" fill="#a9a9a9"/>
  <rect x="366" y="982" width="26" height="36" fill="#3a3a3a" opacity="0.75"/>
  <g stroke="#f2f2f2" stroke-width="2.4">
    <line x1="349" y1="994" x2="366" y2="994"/>
    <line x1="349" y1="999" x2="366" y2="999"/>
    <line x1="349" y1="1004" x2="366" y2="1004"/>
    <line x1="349" y1="1009" x2="366" y2="1009"/>
    <line x1="349" y1="1014" x2="366" y2="1014"/>
  </g>
  <g stroke="#1e1e1e" stroke-width="2.4">
    <line x1="349" y1="996.5" x2="392" y2="996.5"/>
    <line x1="349" y1="1001.5" x2="392" y2="1001.5"/>
    <line x1="349" y1="1006.5" x2="392" y2="1006.5"/>
    <line x1="349" y1="1011.5" x2="392" y2="1011.5"/>
  </g>
  <g stroke="#bdbdbd" stroke-width="2">
    <line x1="380" y1="994" x2="392" y2="994"/>
    <line x1="380" y1="999" x2="392" y2="999"/>
    <line x1="380" y1="1004" x2="392" y2="1004"/>
    <line x1="380" y1="1009" x2="392" y2="1009"/>
  </g>
  <!-- plug head -->
  <path d="M346,940 L352,930 Q362,921 380,921 L402,921 L402,982 L388,982 L360,978 L348,972 Z" fill="url(#gPlugBody)"/>
  <rect x="346" y="938" width="7" height="36" fill="#3d3d3d"/>
  <rect x="357" y="940" width="5" height="28" fill="#777"/>
  <ellipse cx="401.5" cy="951.5" rx="20.5" ry="30" fill="#2a2a2a"/>
  <rect x="396" y="927" width="10" height="16" rx="3" fill="#bdbdbd"/>
  <rect x="399" y="931" width="4" height="6" rx="2" fill="#2a2a2a"/>
  <!-- pins -->
  <rect x="386" y="950" width="22" height="6.5" rx="3" fill="#6e6e6e"/>
  <rect x="409" y="948.5" width="25" height="6.5" rx="3" fill="#7a7a7a"/>
  <ellipse cx="408" cy="953" rx="3" ry="3.5" fill="#f0f0f0"/>
  <ellipse cx="433" cy="951.7" rx="2.8" ry="3.3" fill="#e8e8e8"/>
  <rect x="399" y="972" width="5" height="3" fill="#c8c8c8"/>
</g>
<!-- faint floor shadow under small CEE -->
<ellipse cx="245" cy="1066" rx="58" ry="2.5" fill="#d8d8d8" opacity="0.45"/>

<!-- banners -->
<rect x="112" y="612.5" width="410" height="44.5" fill="url(#gBan)"/>
<text x="195.5" y="645" font-family="Liberation Sans, Arial, sans-serif" font-size="30" fill="#ffffff" textLength="232.8" lengthAdjust="spacingAndGlyphs">CEE 32A Socket</text>
<rect x="12" y="785" width="582" height="45" fill="url(#oBan)"/>
<text x="96" y="818.3" font-family="Liberation Sans, Arial, sans-serif" font-size="30" fill="#ffffff" textLength="431.6" lengthAdjust="spacingAndGlyphs">CEE 16A / Schuko-Socket 16A</text>

<!-- VS -->
<line x1="115" y1="784" x2="600" y2="653" stroke="url(#streak)" stroke-width="7" filter="url(#blur3)"/>
<line x1="125" y1="781" x2="595" y2="654" stroke="url(#streak)" stroke-width="2.2"/>
<text x="254" y="762" font-family="Liberation Sans, Arial, sans-serif" font-weight="bold" font-style="italic" font-size="100" fill="#7e7e7e" filter="url(#vsf)" textLength="131" lengthAdjust="spacingAndGlyphs">VS</text>

</svg>
</body></html>
